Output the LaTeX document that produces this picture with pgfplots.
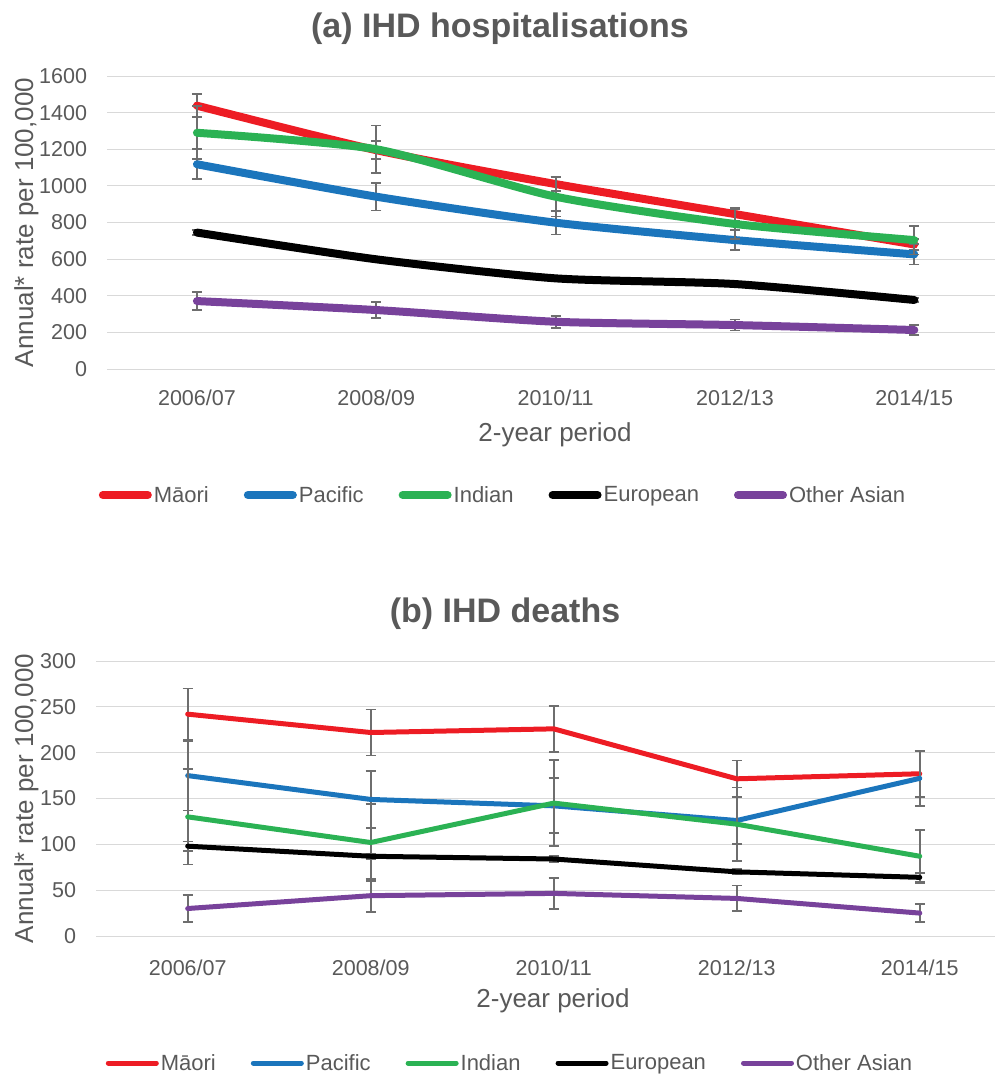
\documentclass[border=0pt]{standalone}
\usepackage{fontspec}
\setmainfont{Liberation Sans}
\usepackage{pgfplots}
\usepackage{pgfplotstable}
\pgfplotsset{compat=1.18}
\definecolor{txt}{HTML}{595959}
\definecolor{gridc}{HTML}{D9D9D9}
\definecolor{cRed}{HTML}{ED1C24}
\definecolor{cBlue}{HTML}{1B75BC}
\definecolor{cGreen}{HTML}{2BB254}
\definecolor{cPurple}{HTML}{78429B}
\definecolor{ebar}{HTML}{6E6E6E}

% Hospitalisations
\pgfplotstableread{
x y e
0 1438 62
1 1195 50
2 1010 40
3 846 35
4 680 28
}\hMaori
\pgfplotstableread{
x y e
0 1118 82
1 941 75
2 799 65
3 704 55
4 626 55
}\hPacific
\pgfplotstableread{
x y e
0 1290 145
1 1200 130
2 941 108
3 792 80
4 704 79
}\hIndian
\pgfplotstableread{
x y e
0 745 12
1 599 6
2 495 6
3 464 6
4 377 10
}\hEuropean
\pgfplotstableread{
x y e
0 371 50
1 322 42
2 258 33
3 240 30
4 213 27
}\hAsian
% Deaths
\pgfplotstableread{
x y e
0 242 28
1 222 25
2 226 25
3 171.5 20
4 177 25
}\dMaori
\pgfplotstableread{
x y e
0 175 38
1 149 31
2 142 30
3 126 26
4 172 30
}\dPacific
\pgfplotstableread{
x y e
0 130 52
1 102 42
2 145 47
3 122 40
4 87 29
}\dIndian
\pgfplotstableread{
x y e
0 98 5
1 87 3
2 84 3
3 70 3
4 64 5
}\dEuropean
\pgfplotstableread{
x y e
0 30 15
1 44 18
2 46.5 17
3 41 14
4 25 10
}\dAsian

\pgfplotsset{
 ihd/.style={
  scale only axis, clip=false,
  axis line style={draw=none}, tick style={draw=none},
  ymajorgrids, major grid style={gridc, line width=1pt},
  xtick={0,1,2,3,4}, xticklabels={2006/07,2008/09,2010/11,2012/13,2014/15},
  xmin=-0.5, ymin=0,
  /pgf/number format/assume math mode=true,
  /pgf/number format/1000 sep={},
  tick label style={font=\fontsize{21.5}{25}\selectfont, text=txt, inner sep=0pt},
  yticklabel style={anchor=east, xshift=-20pt},
  legend columns=5,
  legend style={draw=none, fill=none, font=\fontsize{22}{26}\selectfont, text=txt, anchor=center,
    /tikz/every even column/.append style={column sep=33pt},
    nodes={inner xsep=2pt, inner ysep=0pt}},
  legend image code/.code={\draw[##1, line cap=round] ({0.5\pgflinewidth},0pt) -- ({53pt-0.5\pgflinewidth},0pt);},
 },
 eb/.style={draw=none, mark=none, forget plot, error bars/.cd, y dir=both, y explicit,
   error bar style={draw=ebar, line width=1.8pt, line cap=butt},
   error mark options={rotate=90, draw=ebar, mark size=5pt, line width=1.8pt}},
 ser/.style={line width=#1, line join=round, line cap=round, mark=none},
}

\begin{document}
\begin{tikzpicture}
\useasboundingbox (0,0) rectangle (995pt,-1077pt);

% ---------- (a) ----------
\node[font=\bfseries\fontsize{34}{40}\selectfont, text=txt, anchor=base] at (500pt,-37pt) {(a) IHD hospitalisations};
\begin{axis}[ihd, at={(107.25pt,-369pt)}, anchor=south west,
  width=887.75pt, height=293pt, xmax=4.45, ymax=1600, ytick={0,200,...,1600},
  xticklabel style={anchor=base, yshift=-36pt},
  legend style={at={(0.4458,-0.430)}}]
\addplot[eb] table[x=x, y=y, y error=e] {\hMaori};
\addplot[cRed, ser=8pt, smooth, tension=0.4] table[x=x, y=y] {\hMaori};
\addlegendentry{Māori}
\addplot[eb] table[x=x, y=y, y error=e] {\hPacific};
\addplot[cBlue, ser=8pt, smooth, tension=0.4] table[x=x, y=y] {\hPacific};
\addlegendentry{Pacific}
\addplot[eb] table[x=x, y=y, y error=e] {\hIndian};
\addplot[cGreen, ser=8pt, smooth, tension=0.4] table[x=x, y=y] {\hIndian};
\addlegendentry{Indian}
\addplot[eb] table[x=x, y=y, y error=e] {\hEuropean};
\addplot[black, ser=8pt, smooth, tension=0.4] table[x=x, y=y] {\hEuropean};
\addlegendentry{European}
\addplot[eb] table[x=x, y=y, y error=e] {\hAsian};
\addplot[cPurple, ser=8pt, smooth, tension=0.4] table[x=x, y=y] {\hAsian};
\addlegendentry{Other Asian}
\end{axis}
\node[font=\fontsize{26}{30}\selectfont, text=txt, anchor=base] at (555pt,-441pt) {2-year period};
\node[font=\fontsize{26}{30}\selectfont, text=txt, anchor=base, rotate=90] at (33pt,-222.5pt) {Annual* rate per 100,000};

% ---------- (b) ----------
\node[font=\bfseries\fontsize{34}{40}\selectfont, text=txt, anchor=base] at (505pt,-622pt) {(b) IHD deaths};
\begin{axis}[ihd, at={(96.2pt,-936pt)}, anchor=south west,
  width=898.6pt, height=275pt, xmax=4.41, ymax=300, ytick={0,50,...,300},
  xticklabel style={anchor=base, yshift=-39.5pt},
  legend style={at={(0.4605,-0.4618)}}]
\addplot[eb] table[x=x, y=y, y error=e] {\dMaori};
\addplot[cRed, ser=5pt] table[x=x, y=y] {\dMaori};
\addlegendentry{Māori}
\addplot[eb] table[x=x, y=y, y error=e] {\dPacific};
\addplot[cBlue, ser=5pt] table[x=x, y=y] {\dPacific};
\addlegendentry{Pacific}
\addplot[eb] table[x=x, y=y, y error=e] {\dIndian};
\addplot[cGreen, ser=5pt] table[x=x, y=y] {\dIndian};
\addlegendentry{Indian}
\addplot[eb] table[x=x, y=y, y error=e] {\dEuropean};
\addplot[black, ser=5pt] table[x=x, y=y] {\dEuropean};
\addlegendentry{European}
\addplot[eb] table[x=x, y=y, y error=e] {\dAsian};
\addplot[cPurple, ser=5pt] table[x=x, y=y] {\dAsian};
\addlegendentry{Other Asian}
\end{axis}
\node[font=\fontsize{26}{30}\selectfont, text=txt, anchor=base] at (553pt,-1007pt) {2-year period};
\node[font=\fontsize{26}{30}\selectfont, text=txt, anchor=base, rotate=90] at (33pt,-798.5pt) {Annual* rate per 100,000};
\end{tikzpicture}
\end{document}
